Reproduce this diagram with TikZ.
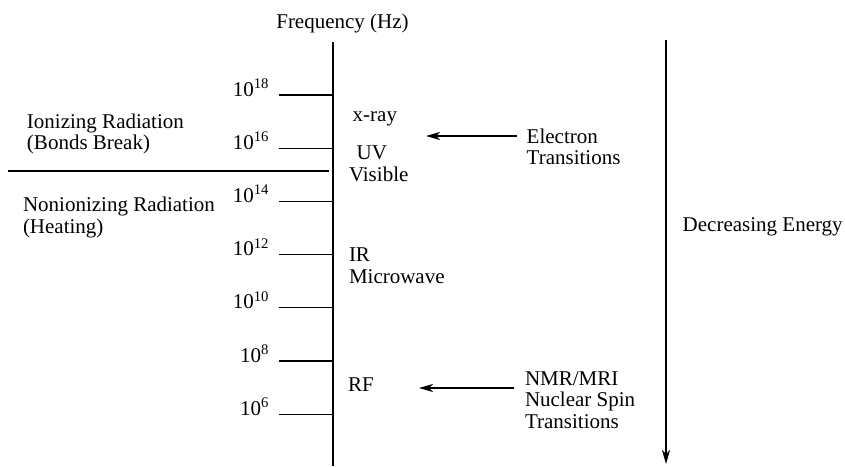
\documentclass[tikz,border=0pt]{standalone}
\usepackage{fontspec}
\setmainfont{Liberation Serif}
\usetikzlibrary{arrows.meta}
\begin{document}
\begin{tikzpicture}[x=1pt,y=-1pt,
  every node/.style={inner sep=0pt, outer sep=0pt, font=\fontsize{21}{21.5}\selectfont},
  lab/.style={anchor=base west},
  tlab/.style={anchor=base east},
  ln/.style={line width=1.2pt},
  arr/.style={line width=1.2pt, -{Stealth[length=14pt,width=8pt,inset=4pt]}}]
\useasboundingbox (0,0) rectangle (845,466);
% axis
\coordinate (axtop) at (333,42);
\coordinate (axbot) at (333,466);
\draw[ln] (axtop) -- (axbot);
\node[anchor=base] (freq) at (342.5,28) {Frequency (Hz)};
% ticks
\foreach \e/\y in {18/95,16/148.2,14/201.4,12/254.6,10/307.8,8/361,6/414.2}{
  \coordinate (t\e) at (279,\y);
  \coordinate (a\e) at (333,\y);
  \draw[ln] (t\e) -- (a\e);
  \node[tlab] (l\e) at (269,\y+1) {10\textsuperscript{\e}};
}
% divider
\coordinate (dl) at (8,171);
\coordinate (dr) at (329,171);
\draw[ln] (dl) -- (dr);
% region labels
\node[lab] (ion) at (27,128) {\begin{tabular}[t]{@{}l@{}}Ionizing Radiation\\(Bonds Break)\end{tabular}};
\node[lab] (nonion) at (23,211.7) {\begin{tabular}[t]{@{}l@{}}Nonionizing Radiation\\(Heating)\end{tabular}};
% spectrum labels
\node[lab] (xray) at (352.7,121.7) {x-ray};
\node[lab] (uv) at (356.7,159) {UV};
\node[lab] (vis) at (349,181.7) {Visible};
\node[lab] (ir) at (349,261.7) {\begin{tabular}[t]{@{}l@{}}IR\\Microwave\end{tabular}};
\node[lab] (rf) at (348,391) {RF};
% transitions
\node[lab] (elec) at (526.7,143) {\begin{tabular}[t]{@{}l@{}}Electron\\Transitions\end{tabular}};
\coordinate (e1) at (516.7,136);
\coordinate (e2) at (426,136);
\draw[arr] (e1) -- (e2);
\node[lab] (nmr) at (525,385) {\begin{tabular}[t]{@{}l@{}}NMR/MRI\\Nuclear Spin\\Transitions\end{tabular}};
\coordinate (n1) at (514,388);
\coordinate (n2) at (419,388);
\draw[arr] (n1) -- (n2);
% energy arrow
\coordinate (etop) at (666,40);
\coordinate (ebot) at (666,464);
\draw[arr] (etop) -- (ebot);
\node[lab] (energy) at (682.7,231.5) {Decreasing Energy};
\end{tikzpicture}
\end{document}
